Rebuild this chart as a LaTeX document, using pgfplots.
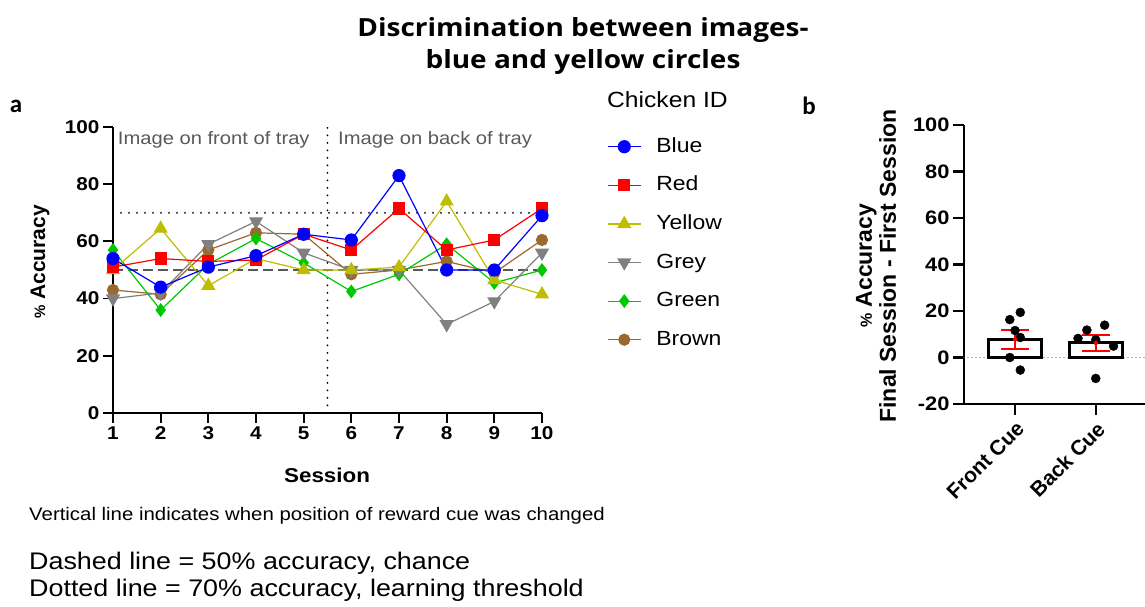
\documentclass[border=0pt]{standalone}
\usepackage{fontspec}
\usepackage{pgfplots}
\pgfplotsset{compat=1.18}
\setmainfont{Liberation Sans}[FakeStretch=1.12]
\newfontfamily\plain{Liberation Sans}
\newfontfamily\titlefont{Open Sans}[FakeStretch=1.12]
\newfontfamily\calib{Carlito}
\definecolor{cBlue}{RGB}{0,0,255}
\definecolor{cRed}{RGB}{255,0,0}
\definecolor{cYellow}{RGB}{190,190,0}
\definecolor{cGrey}{RGB}{128,128,128}
\definecolor{cGreen}{RGB}{0,200,0}
\definecolor{cBrown}{RGB}{155,105,45}
\newcommand{\fs}[1]{\fontsize{#1}{#1}\selectfont}
\pgfplotstableread{
s Blue Red Yellow Grey Green Brown
1 54 51 50 40 57 43
2 44 54 64.5 42 36 41.5
3 51 53 44.5 59 52 57
4 55 53.5 54 67 61 63
5 62.5 62.5 50 56 52.5 62.5
6 60.5 57 50 50 42.5 48.5
7 83 71.5 51 50 48.5 50
8 50 57 74 31 59 53
9 50 60.5 46.5 39 45.5 49
10 69 71.5 41.5 56 50 60.5
}\sessions
\begin{document}
\begin{tikzpicture}[x=1pt,y=1pt]
\path[use as bounding box] (0pt,0pt) rectangle (1145pt,607pt);
% title
\node[align=center, font=\titlefont\bfseries\fontsize{25}{32}\selectfont] at (583pt,561pt) {Discrimination between images-\\blue and yellow circles};
\node[font=\calib\bfseries\fs{25}] at (16pt,501pt) {a};
\node[font=\calib\bfseries\fs{25}] at (809pt,501pt) {b};
\node[anchor=west, font=\fs{22}, inner sep=0pt] at (607pt,507pt) {Chicken ID};
\node[anchor=west, font=\fs{18.2}, inner sep=0pt] at (29pt,91pt) {Vertical line indicates when position of reward cue was changed};
\node[anchor=west, font=\fs{24}, inner sep=0pt] at (29pt,44pt) {Dashed line = 50\% accuracy, chance};
\node[anchor=west, font=\fs{24}, inner sep=0pt] at (29pt,17pt) {Dotted line = 70\% accuracy, learning threshold};
\begin{axis}[at={(113pt,194pt)}, anchor=south west, scale only axis,
  width=429pt, height=286pt, xmin=1, xmax=10, ymin=0, ymax=100,
  axis lines=left, axis line style={-, line width=1.8pt},
  clip=false, xtick={1,...,10}, ytick={0,20,...,100},
  tick align=outside, major tick length=10pt,
  tick style={line width=1.8pt, black},
  /pgf/number format/assume math mode=true,
  ticklabel style={font=\bfseries\fs{18.5}},
  xlabel={Session}, xlabel style={font=\bfseries\fs{20}, at={(axis description cs:0.499,-0.217)}, anchor=center},
  ylabel={{\fs{15}\%} Accuracy}, ylabel style={font=\plain\bfseries\fs{21}, at={(axis description cs:-0.17,0.528)}, anchor=center, rotate=0},
  reverse legend=true,
  legend style={draw=none, fill=none, inner sep=0pt, at={(axis description cs:1.1515,0.965)}, anchor=north west,
    font=\fs{20.5}, row sep=19.6pt, nodes={inner sep=0pt, text height=15pt, text depth=4pt},
    /tikz/every odd column/.append style={column sep=15pt}},
  legend image code/.code={\draw[mark repeat=2,mark phase=2] plot coordinates {(0pt,0pt) (16.5pt,0pt) (33pt,0pt)};},
  legend cell align=left,
]
\addplot[forget plot, line width=2pt, line cap=round, dash pattern=on 0pt off 7.5pt, black] coordinates {(5.5,0) (5.5,100)};
\addplot[forget plot, line width=2pt, line cap=round, dash pattern=on 0pt off 8pt, black] coordinates {(1,70) (10,70)};
\addplot[forget plot, dash pattern=on 10pt off 5pt, line width=2.2pt, black!65] coordinates {(1,50) (10,50)};
\node[anchor=west, font=\fs{18}, text=black!65, inner sep=0pt] at (axis cs:1.1,95.5) {Image on front of tray};
\node[anchor=west, font=\fs{18}, text=black!65, inner sep=0pt] at (axis cs:5.72,95.5) {Image on back of tray};
\addplot[cBrown, line width=1.2pt, mark=*, mark size=5.5pt, mark options={solid}] table[x=s, y=Brown] {\sessions};
\addlegendentry{Brown}
\addplot[cGreen, line width=1.2pt, mark=diamond*, mark size=6pt, mark options={solid}] table[x=s, y=Green] {\sessions};
\addlegendentry{Green}
\addplot[cGrey, line width=1.2pt, mark=triangle*, mark size=7pt, mark options={solid, rotate=180}] table[x=s, y=Grey] {\sessions};
\addlegendentry{Grey}
\addplot[cYellow, line width=1.2pt, mark=triangle*, mark size=7pt, mark options={solid}] table[x=s, y=Yellow] {\sessions};
\addlegendentry{Yellow}
\addplot[cRed, line width=1.2pt, mark=square*, mark size=5.5pt, mark options={solid}] table[x=s, y=Red] {\sessions};
\addlegendentry{Red}
\addplot[cBlue, line width=1.2pt, mark=*, mark size=6pt, mark options={solid}] table[x=s, y=Blue] {\sessions};
\addlegendentry{Blue}
\end{axis}
\begin{axis}[at={(964pt,203pt)}, anchor=south west, scale only axis,
  width=181pt, height=279pt, xmin=-0.632, xmax=1.61, ymin=-20, ymax=100,
  axis lines=left, axis line style={-, line width=2.2pt},
  clip=false, xtick={0,1}, xticklabels={Front Cue, Back Cue}, ytick={-20,0,...,100},
  tick align=outside, major tick length=11pt,
  tick style={line width=2.2pt, black},
  /pgf/number format/assume math mode=true,
  yticklabel style={font=\bfseries\fs{19.5}},
  xticklabel style={font=\plain\bfseries\fs{21}, rotate=45, anchor=north east},
  ylabel={{\fs{16}\%} Accuracy\\Final Session - First Session},
  ylabel style={font=\plain\bfseries\fontsize{23}{24}\selectfont, align=center, at={(axis description cs:-0.486,0.495)}, anchor=center, rotate=0},
]
\addplot[line width=1.4pt, line cap=round, dash pattern=on 0pt off 4pt, black!60] coordinates {(-0.632,0) (1.61,0)};
\addplot[ybar, bar width=53pt, draw=black, line width=3pt, fill=white] coordinates {(0,7.8) (1,6.3)};
\addplot[only marks, mark=*, mark size=4.5pt, black] coordinates {
(-0.065,16.3) (0.065,19.4) (0.065,8.6) (-0.065,0) (0.065,-5.4) (0,11.6)
(0.78,8.2) (0.89,11.8) (1.11,13.9) (1.22,4.9) (1,-9) (1,7.6)};
\addplot[only marks, mark=none, red, error bars/.cd, y dir=both, y explicit,
  error bar style={red, line width=2pt, solid},
  error mark options={red, line width=2pt, mark size=14pt, rotate=90}] coordinates {(0,7.8) +- (0,4.1) (1,6.3) +- (0,3.4)};
\end{axis}
\end{tikzpicture}
\end{document}
